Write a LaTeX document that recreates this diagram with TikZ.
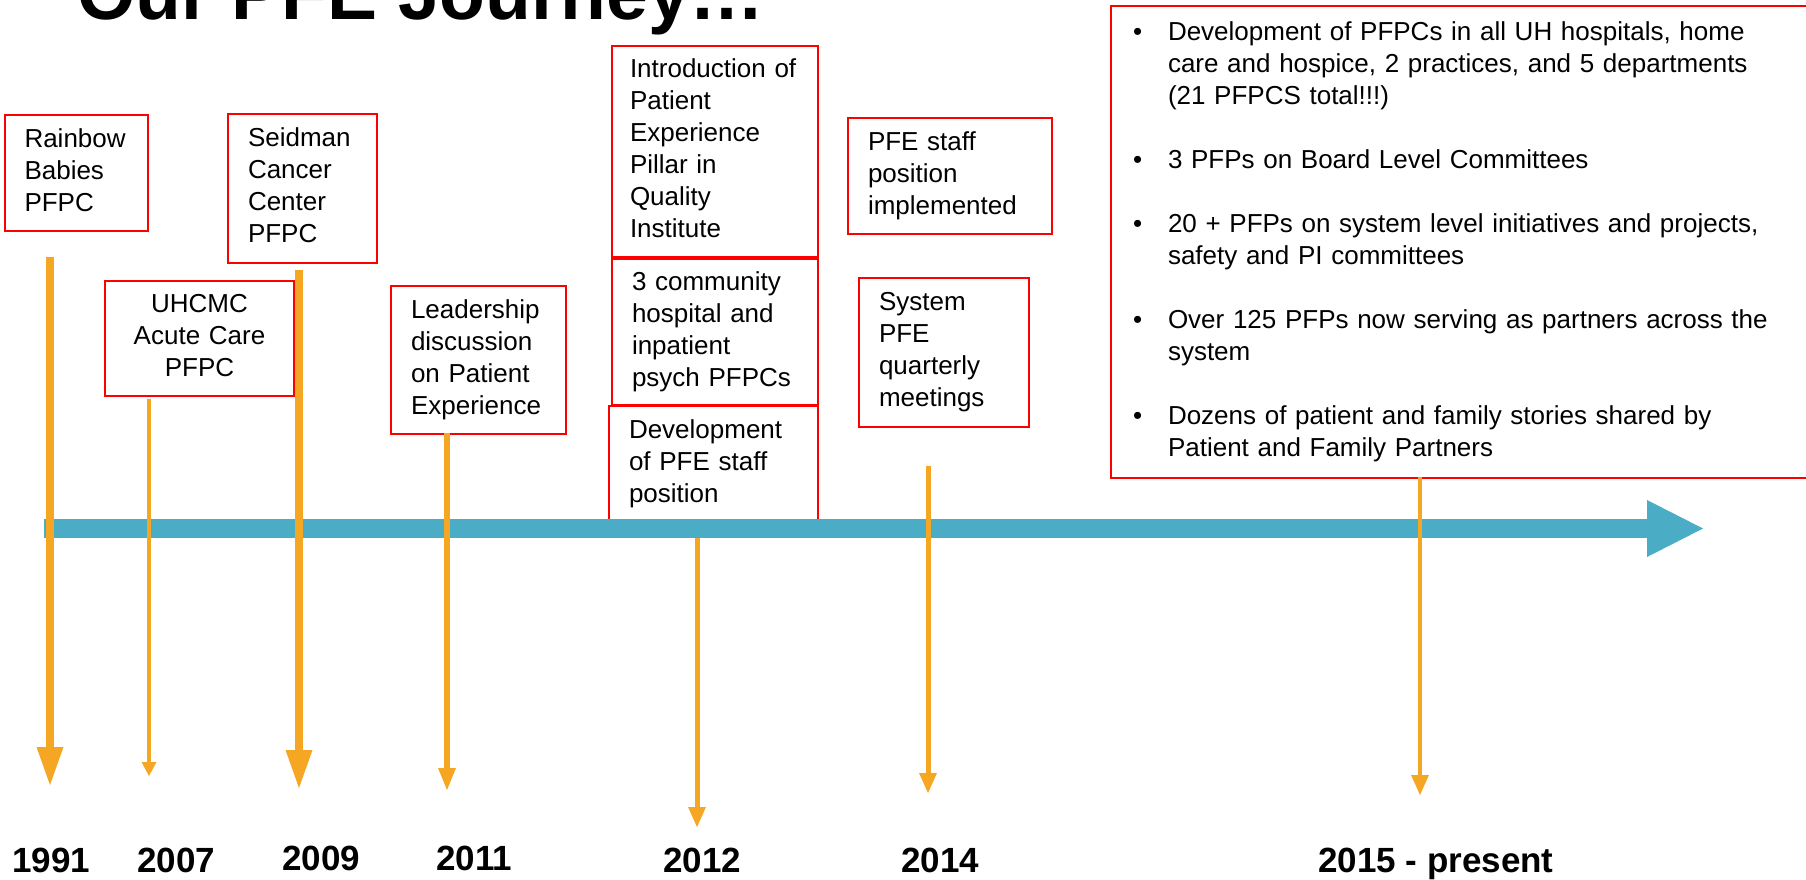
\documentclass[tikz,border=0pt]{standalone}
\usepackage{fontspec}
\setmainfont{Liberation Sans}
\usetikzlibrary{arrows.meta}

\definecolor{pfeorange}{RGB}{245,166,35}
\definecolor{pfeblue}{RGB}{75,172,198}

\tikzset{
	event/.style={draw=red, line width=2pt, inner xsep=20pt, inner ysep=0pt, align=left, font=\fontsize{26}{32}\selectfont, execute at begin node=\strut, execute at end node=\strut},
	year/.style={anchor=base west, inner sep=0pt, font=\bfseries\fontsize{35}{42}\selectfont},
	thinarrow/.style={pfeorange, line width=5pt, -{Triangle[length=20pt,width=18pt,line width=0pt]}},
	fatarrow/.style={pfeorange, line width=8.5pt, -{Triangle[length=38pt,width=27pt,line width=0pt]}}
}

\begin{document}
\begin{tikzpicture}[x=1pt, y=-1pt]
	\useasboundingbox (0,0) rectangle (1806,880);
	% title (cut off at the top)
	\node[anchor=base west, inner sep=0pt, font=\bfseries\fontsize{75}{80}\selectfont] (title) at (77,20) {Our PFE Journey…};
	% event boxes
	\node[event, text width=103pt, minimum height=116pt] (rainbow) at (76,173) {Rainbow\\Babies\\PFPC};
	\node[event, align=center, text width=149pt, minimum height=115pt] (uhcmc) at (199.5,338.5) {UHCMC\\Acute Care\\PFPC};
	\node[event, text width=109pt, minimum height=149pt] (seidman) at (302.5,188.5) {Seidman\\Cancer\\Center\\PFPC};
	\node[event, text width=135pt, minimum height=148pt] (leader) at (478.5,360) {Leadership\\discussion\\on Patient\\Experience};
	\node[event, inner xsep=18pt, text width=170pt, minimum height=211pt] (pillar) at (715,151.5) {Introduction of\\Patient\\Experience\\Pillar in\\Quality\\Institute};
	\node[event, text width=166pt, minimum height=146pt] (community) at (715,332) {3 community\\hospital and\\inpatient\\psych PFPCs};
	\node[event, text width=169pt, minimum height=116pt] (develop) at (713.5,464) {Development\\of PFE staff\\position};
	\node[event, text width=164pt, minimum height=116pt] (staff) at (950,176) {PFE staff\\position\\implemented};
	\node[event, text width=130pt, minimum height=149pt] (quarterly) at (944,352.5) {System\\PFE\\quarterly\\meetings};
	% 2015 - present list
	\node[draw=red, line width=2pt, inner sep=0pt, text width=704pt, minimum height=472pt, align=left, font=\fontsize{26}{32}\selectfont] (now) at (1463,242) {\noindent\begin{tabular}{@{\hspace{22pt}}p{35pt}@{}l@{}}
		• & Development of PFPCs in all UH hospitals, home\\
		  & care and hospice, 2 practices, and 5 departments\\
		  & (21 PFPCS total!!!)\\
		  & \\
		• & 3 PFPs on Board Level Committees\\
		  & \\
		• & 20 + PFPs on system level initiatives and projects,\\
		  & safety and PI committees\\
		  & \\
		• & Over 125 PFPs now serving as partners across the\\
		  & system\\
		  & \\
		• & Dozens of patient and family stories shared by\\
		  & Patient and Family Partners
	\end{tabular}};
	% time axis
	\coordinate (start) at (44,528.5);
	\coordinate (end) at (1703,528.5);
	\draw[pfeblue, line width=19pt, -{Triangle[length=56pt,width=57pt,line width=0pt]}] (start) -- (end);
	% year arrows
	\coordinate (top1991) at (50,257);   \coordinate (tip1991) at (50,785);
	\coordinate (top2007) at (149,399);  \coordinate (tip2007) at (149,776);
	\coordinate (top2009) at (299,270);  \coordinate (tip2009) at (299,788);
	\coordinate (top2011) at (447,433);  \coordinate (tip2011) at (447,790);
	\coordinate (top2012) at (697,538);  \coordinate (tip2012) at (697,827);
	\coordinate (top2014) at (928,466);  \coordinate (tip2014) at (928,793);
	\coordinate (top2015) at (1420,477); \coordinate (tip2015) at (1420,795);
	\draw[fatarrow] (top1991) -- (tip1991); % 1991
	\draw[thinarrow, line width=4.5pt, -{Triangle[length=14pt,width=15pt,line width=0pt]}] (top2007) -- (tip2007); % 2007
	\draw[fatarrow] (top2009) -- (tip2009); % 2009
	\draw[thinarrow, line width=5.5pt, -{Triangle[length=22pt,width=18pt,line width=0pt]}] (top2011) -- (tip2011); % 2011
	\draw[thinarrow] (top2012) -- (tip2012); % 2012
	\draw[thinarrow] (top2014) -- (tip2014); % 2014
	\draw[thinarrow, line width=4.5pt] (top2015) -- (tip2015); % 2015
	% year labels
	\node[year] (y1991) at (12,872) {1991};
	\node[year] (y2007) at (137,872) {2007};
	\node[year] (y2009) at (282,870) {2009};
	\node[year] (y2011) at (436,870) {2011};
	\node[year] (y2012) at (663,872) {2012};
	\node[year] (y2014) at (901,872) {2014};
	\node[year] (y2015) at (1318,872) {2015 - present};
\end{tikzpicture}
\end{document}
